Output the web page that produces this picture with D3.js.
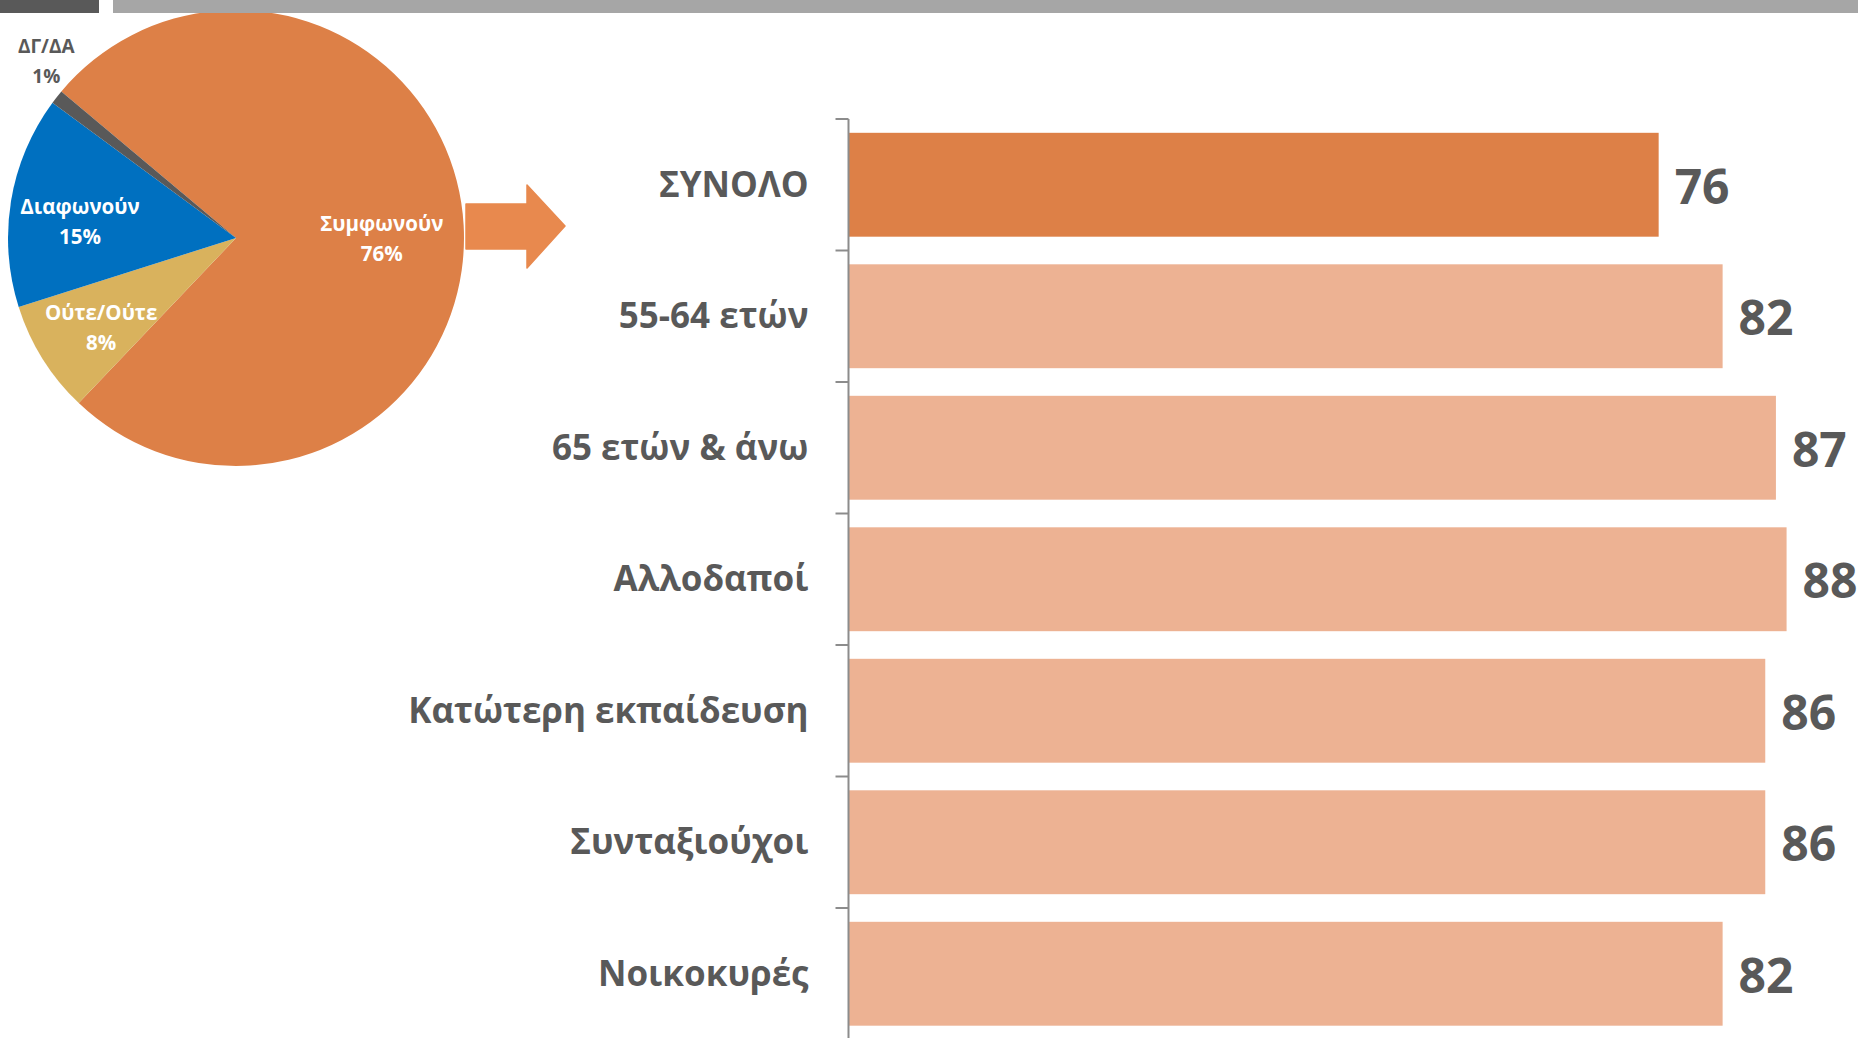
<!DOCTYPE html>
<html>
<head>
<meta charset="utf-8">
<script src="https://cdn.jsdelivr.net/npm/d3@7"></script>
<style>
  html, body { margin: 0; padding: 0; background: #fff; }
  svg { display: block; font-family: "Open Sans", "Noto Sans", sans-serif; font-weight: 700; }
</style>
</head>
<body>
<div class="chart"></div>
<script>
// pie data
const pieNames = ["Συμφωνούν", "Ούτε/Ούτε", "Διαφωνούν", "ΔΓ/ΔΑ"];
const pieValues = [76, 8, 15, 1];
const pieColors = ["#DD8047", "#D9B25D", "#0070C0", "#595959"];

// bar data
const categories = ["ΣΥΝΟΛΟ", "55-64 ετών", "65 ετών & άνω", "Αλλοδαποί", "Κατώτερη εκπαίδευση", "Συνταξιούχοι", "Νοικοκυρές"];
const values = [76, 82, 87, 88, 86, 86, 82];

const W = 1858, H = 1038;
const textGray = "#595959";

const svg = d3.select(".chart")
  .append("svg")
  .attr("width", W)
  .attr("height", H);

// ---- pie ----
const cx = 236, cy = 238, r = 228;
const pie = d3.pie()
  .sort(null)
  .startAngle(-50 * Math.PI / 180)
  .endAngle(310 * Math.PI / 180);

const arc = d3.arc().innerRadius(0).outerRadius(r);
const labelArc = d3.arc().innerRadius(152).outerRadius(152);
const outerLabelArc = d3.arc().innerRadius(258).outerRadius(258);

const arcs = pie(pieValues);

const pieG = svg.append("g")
  .attr("class", "pie")
  .attr("transform", `translate(${cx},${cy})`);

pieG.selectAll("path")
  .data(arcs)
  .enter()
  .append("path")
  .attr("d", arc)
  .attr("fill", (d, i) => pieColors[i]);

// labels: inside for big slices, outside for the tiny one
const pieLabel = pieG.selectAll("text")
  .data(arcs)
  .enter()
  .append("text")
  .attr("text-anchor", "middle")
  .attr("transform", function(d, i) {
    const small = pieValues[i] < 3;
    const c = small ? outerLabelArc.centroid(d) : labelArc.centroid(d);
    const dx = small ? 13 : -6, dy = small ? -18 : 8;
    return `translate(${c[0] + dx},${c[1] + dy})`;
  })
  .style("font-size", (d, i) => pieValues[i] < 3 ? "19px" : "20.5px")
  .attr("fill", (d, i) => pieValues[i] < 3 ? textGray : "#fff");

pieLabel.append("tspan")
  .attr("x", 0)
  .attr("y", -7)
  .text((d, i) => pieNames[i]);
pieLabel.append("tspan")
  .attr("x", 0)
  .attr("y", 23)
  .text((d, i) => pieValues[i] + "%");

// top strip
svg.append("rect").attr("x", 0).attr("y", 0).attr("width", 99).attr("height", 13).attr("fill", "#595959");
svg.append("rect").attr("x", 113).attr("y", 0).attr("width", W - 113).attr("height", 13).attr("fill", "#A6A6A6");

// arrow
const ax = 466, ay = 226;
const arrow = d3.path();
arrow.moveTo(ax, ay - 22);
arrow.lineTo(ax + 61, ay - 22);
arrow.lineTo(ax + 61, ay - 41);
arrow.lineTo(ax + 99, ay);
arrow.lineTo(ax + 61, ay + 42);
arrow.lineTo(ax + 61, ay + 23);
arrow.lineTo(ax, ay + 23);
arrow.closePath();
svg.append("path")
  .attr("d", arrow.toString())
  .attr("fill", "#E8894E")
  .attr("stroke", "#E8894E")
  .attr("stroke-width", 1.5)
  .attr("stroke-linejoin", "round");

// ---- bars ----
const x0 = 848.5;
const x = d3.scaleLinear()
  .domain([0, 100])
  .range([x0, x0 + 1066]);

const y = d3.scaleBand()
  .domain(categories)
  .range([119, 119 + 7 * 131.5])
  .paddingInner(0.21)
  .paddingOuter(0.105);

svg.append("g")
  .attr("class", "bars")
  .selectAll("rect")
  .data(categories)
  .enter()
  .append("rect")
  .attr("x", x(0))
  .attr("y", d => y(d))
  .attr("width", (d, i) => x(values[i]) - x(0))
  .attr("height", y.bandwidth())
  .attr("fill", (d, i) => i === 0 ? "#DD8047" : "#EDB293");

// axis line and ticks between categories
const axisG = svg.append("g").attr("class", "axis");
axisG.append("line")
  .attr("x1", x0).attr("x2", x0)
  .attr("y1", y.range()[0]).attr("y2", H)
  .attr("stroke", "#8C8C8C")
  .attr("stroke-width", 2);
axisG.selectAll(".tick")
  .data(categories)
  .enter()
  .append("line")
  .attr("class", "tick")
  .attr("x1", x0 - 13).attr("x2", x0)
  .attr("y1", d => y(d) - y.paddingOuter() * y.step())
  .attr("y2", d => y(d) - y.paddingOuter() * y.step())
  .attr("stroke", "#8C8C8C")
  .attr("stroke-width", 2);

// category labels
svg.append("g")
  .selectAll("text")
  .data(categories)
  .enter()
  .append("text")
  .attr("x", x0 - 40)
  .attr("y", d => y(d) + y.bandwidth() / 2 + 12)
  .attr("text-anchor", "end")
  .attr("fill", textGray)
  .style("font-size", "35px")
  .text(d => d);

// value labels
svg.append("g")
  .selectAll("text")
  .data(categories)
  .enter()
  .append("text")
  .attr("x", (d, i) => x(values[i]) + 16)
  .attr("y", d => y(d) + y.bandwidth() / 2 + 19)
  .attr("fill", textGray)
  .style("font-size", "48px")
  .text((d, i) => values[i]);
</script>
</body>
</html>
